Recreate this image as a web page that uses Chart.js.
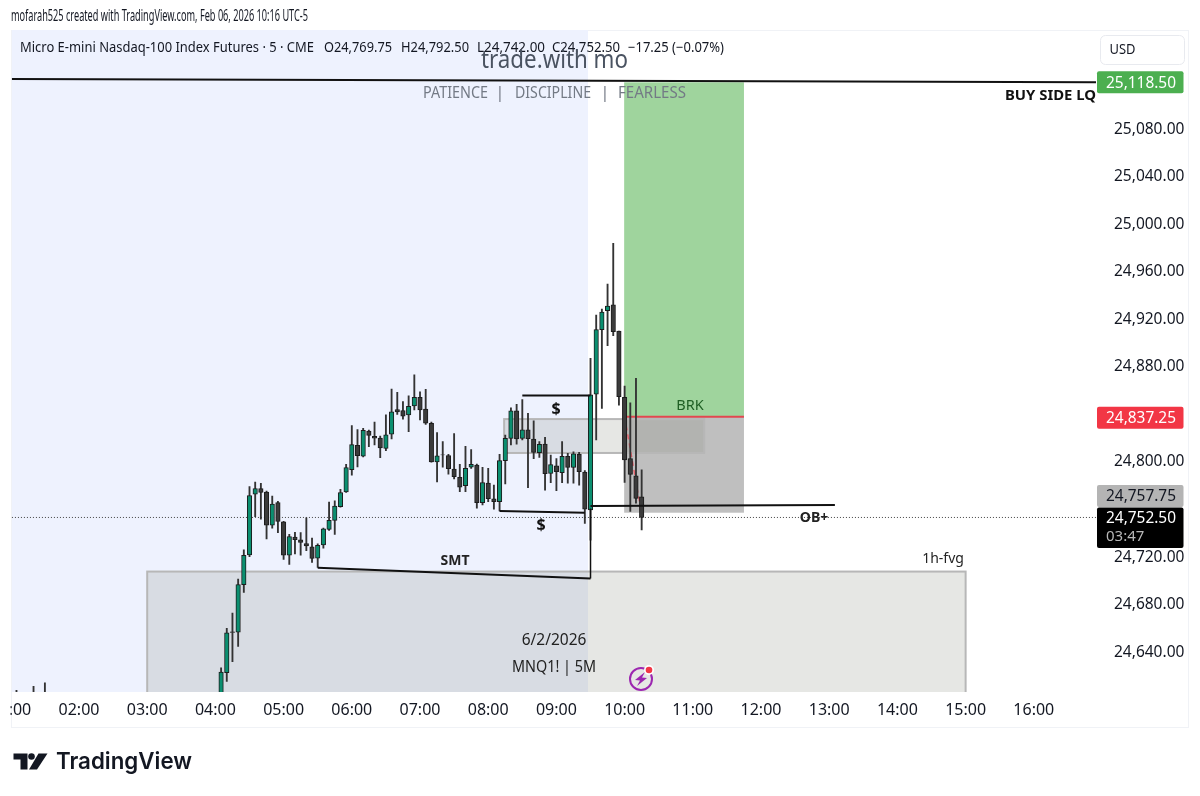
<!DOCTYPE html>
<html><head><meta charset="utf-8">
<style>html,body{margin:0;padding:0;background:#fff}canvas{display:block}</style>
<script src="https://cdn.jsdelivr.net/npm/chart.js@4"></script>
</head><body><canvas id="c" width="1200" height="796"></canvas>
<script>
// bar open times, minutes since midnight
const times=[65,80,90,245,250,255,260,265,270,275,280,285,290,295,300,305,310,315,320,325,330,335,340,345,350,355,360,365,370,375,380,385,390,395,400,405,410,415,420,425,430,435,440,445,450,455,460,465,470,475,480,485,490,495,500,505,510,515,520,525,530,535,540,545,550,555,560,565,570,575,580,585,590,595,600,605,610,615];
const opens=[24600,24600,24602,24601.75,24622,24656.25,24656,24696,24721,24772,24776.75,24773.75,24746,24765,24748.75,24720.75,24736,24733.75,24730.5,24727.75,24718.25,24729.5,24742.5,24750,24761.5,24774,24792.75,24813.25,24804,24825.25,24820.75,24819.25,24810.5,24822.5,24843.25,24842.5,24838.75,24846.25,24853.5,24843.75,24831.75,24799.25,24805.25,24804.5,24793.25,24786.25,24779.25,24794.75,24796.5,24765,24781.5,24768.25,24765.75,24800.25,24819,24842.25,24819,24826.25,24818.5,24807,24814.25,24789.5,24796,24790.25,24804,24794.5,24805.5,24790.75,24758.75,24856.25,24910.5,24926.5,24931.25,24909.25,24853.5,24802,24787.5,24769.75];
const highs=[24607,24610.5,24613.5,24626,24659.25,24672,24700.75,24725.25,24778.5,24782.25,24781.25,24774.75,24770.5,24766,24749.25,24738.25,24740,24739.75,24752.25,24735.25,24730.25,24743.5,24765.5,24766.5,24776.25,24797.25,24829.75,24826.5,24827.5,24826,24832.75,24821,24838.75,24860.5,24857.75,24850,24854.75,24872.5,24858.25,24860.25,24832.75,24824,24816.25,24805.5,24823,24797.25,24812.25,24809.5,24797.5,24794.75,24793.75,24779.75,24805.5,24821.75,24844.75,24847.75,24851.75,24840,24833.75,24816.25,24820,24805,24802,24816.25,24806.5,24807.75,24807.25,24792,24886.25,24922.75,24927.75,24948.75,24983,24909.25,24863,24849,24869.5,24792.5];
const lows=[24590,24590,24592,24599,24614.5,24631.25,24644,24689.5,24719.5,24753.25,24751,24734.5,24743.5,24739.75,24717.25,24713,24721.75,24720.75,24724.5,24714.75,24710.5,24726.75,24741.5,24738.25,24761.25,24773.5,24788,24795,24803.5,24812,24813.5,24802.75,24808.75,24818.5,24839.25,24835.25,24824.75,24843,24834.5,24830.75,24799,24782.5,24794.75,24789,24785,24774.25,24774.25,24793.75,24760.25,24763,24765.75,24759.5,24758,24780.75,24813.5,24814.25,24817.75,24777.5,24802,24803,24775.5,24781.75,24775,24781.75,24781.25,24781.25,24779.75,24747.5,24733.5,24817.75,24844.25,24897,24905.5,24847,24782,24757.5,24764.5,24742];
const closes=[24595,24595,24597,24622.5,24655.5,24655.75,24696,24720.75,24771,24776.75,24773.5,24746,24763.75,24749.25,24720.75,24736.5,24733.75,24731.5,24728.5,24718,24729,24743,24750,24762,24773.5,24794.5,24813.75,24804.5,24825.75,24821.5,24819.25,24811,24822,24841.25,24841.25,24837.75,24846,24853.5,24843,24831.75,24799.25,24804.25,24805,24793.5,24786.75,24778,24793.75,24797.25,24765,24781.75,24768.25,24765.75,24800.25,24819,24842.25,24818.5,24826.25,24818.75,24807.25,24814,24789.25,24797,24791,24804,24794.5,24806,24791,24759.5,24855.75,24910.5,24925.25,24930.25,24908.75,24854,24801,24788.75,24768.5,24752.5];

const priceTicks=[24640,24680,24720,24800,24880,24920,24960,25000,25040,25080];
const hourTicks=[60,120,180,240,300,360,420,480,540,600,660,720,780,840,900,960];
const hourLabels=['01:00','02:00','03:00','04:00','05:00','06:00','07:00','08:00','09:00','10:00','11:00','12:00','13:00','14:00','15:00','16:00'];

const X_MIN=60, X_MAX=1014.7, Y_MIN=24605.7, Y_MAX=25162.5;
const lastPrice=24752.5, targetPrice=25118.5, entryPrice=24837.25, stopPrice=24757.75;
// session shading and boxes: minutes / price
const sessionRange=[61,567.8];
const targetBox=[599.6,705,25118.5,24837.25];
const stopBox=[599.6,705,24837.25,24756.5];
const obBox=[494,670,24835.25,24806.75];
const fvgBox=[180,900,24707,24500];
// drawn lines: [minute, price] pairs
const buySideLine=[[61,25121.3],[1014.7,25118.5]];
const upperSweep=[[510,24855],[570,24855]];
const lowerSweep=[[490,24758],[565,24756.5]];
const smtLine=[[330,24710.25],[570,24701.25]];
const smtDrop=[[570,24760],[570,24701.25]];
const obLine=[[570,24762.2],[785,24763]];
const redLine=[[600,24837.25],[705,24837.25]];
const stopDash=[[600,24837.25],[614.5,24758]];
const lastLine=[[61,lastPrice],[1014.7,lastPrice]];

const GREEN='#0b8f70', DARK='#3b3b3b', EDGE='#1c1c1c';
const up=times.map((t,i)=>closes[i]>=opens[i]);
function lineDs(pts,color,width,order,dash){return {type:'line',data:pts.map(p=>({x:p[0],y:p[1]})),borderColor:color,borderWidth:width,pointRadius:0,fill:false,tension:0,order:order,borderDash:dash||[]};}

function rectOf(ch,b){const x=ch.scales.x,y=ch.scales.y;const l=x.getPixelForValue(b[0]),r=x.getPixelForValue(b[1]),t=y.getPixelForValue(b[2]),bt=y.getPixelForValue(b[3]);return [l,t,r-l,bt-t];}
function T(c,s,x,y,font,color,align,maxW){c.font=font;c.fillStyle=color;c.textAlign=align||'left';c.textBaseline='middle';if(maxW)c.fillText(s,x,y,maxW);else c.fillText(s,x,y);}

const overlay={id:'overlay',
 beforeDraw(ch){const c=ch.ctx;c.save();c.fillStyle='#fff';c.fillRect(0,0,1200,796);
   c.strokeStyle='#f0f2f6';c.lineWidth=1;c.strokeRect(11.5,30.5,1177,697);c.restore();
   // price labels sit one pixel lower than the tick centre
   const ys=ch.scales.y;ys.getLabelItems(ch.chartArea).forEach(it=>{if(!it.options._moved){it.options.translation=[it.options.translation[0],it.options.translation[1]+1];it.options._moved=true;}});},
 beforeDatasetsDraw(ch){const c=ch.ctx,a=ch.chartArea,xs=ch.scales.x;c.save();c.beginPath();c.rect(a.left,a.top,a.right-a.left,a.bottom-a.top);c.clip();
   const s0=xs.getPixelForValue(sessionRange[0]),s1=xs.getPixelForValue(sessionRange[1]);
   c.fillStyle='#eef2fe';c.fillRect(s0,a.top,s1-s0,a.bottom-a.top);
   let r=rectOf(ch,targetBox);c.fillStyle='#9fd49d';c.fillRect(...r);
   r=rectOf(ch,stopBox);c.fillStyle='rgba(120,120,120,0.47)';c.fillRect(...r);
   for(const b of [obBox,fvgBox]){r=rectOf(ch,b);c.fillStyle='rgba(128,134,122,0.2)';c.fillRect(...r);c.strokeStyle='#b7b7b7';c.lineWidth=2;c.strokeRect(...r);}
   c.restore();},
 afterDraw(ch){const c=ch.ctx,ys=ch.scales.y;c.save();
   // mask left overhang of the first time label
   c.fillStyle='#fff';c.fillRect(0,696,10.5,28);
   const sans='"Noto Sans"';
   T(c,'mofarah525 created with TradingView.com, Feb 06, 2026 10:16 UTC-5',11,17,'15.5px '+sans,'#131722','left',297);
   const top='14px '+sans;
   T(c,'Micro E-mini Nasdaq-100 Index Futures · 5 · CME',20,48,top,'#131722','left',294);
   T(c,'O24,769.75',324,48,top,'#131722','left',68);
   T(c,'H24,792.50',401,48,top,'#131722','left',68);
   T(c,'L24,742.00',477,48,top,'#131722','left',68);
   T(c,'C24,752.50',552,48,top,'#131722','left',68);
   T(c,'−17.25 (−0.07%)',628,48,top,'#131722','left',96);
   T(c,'trade.with mo',554.5,61,'26px '+sans,'#4a5361','center',147);
   const sub='16px '+sans,subC='#737a85';
   T(c,'PATIENCE',423,93,sub,subC,'left',65);
   T(c,'|',500,93,sub,subC,'center');
   T(c,'DISCIPLINE',515,93,sub,subC,'left',76);
   T(c,'|',605,93,sub,subC,'center');
   T(c,'FEARLESS',618,93,sub,subC,'left',68);
   T(c,'BUY SIDE LQ',1050.5,96,'bold 15px '+sans,'#111','center',91);
   T(c,'BRK',690,406,'14.5px '+sans,'#1f5f24','center');
   T(c,'$',556,409,'bold 16px '+sans,'#111','center');
   T(c,'$',541,525,'bold 16px '+sans,'#111','center');
   T(c,'SMT',455,561,'bold 14px '+sans,'#222','center',30);
   T(c,'OB+',814,518,'bold 14px '+sans,'#222','center',30);
   T(c,'1h-fvg',943,559,'14px '+sans,'#222','center',44);
   T(c,'6/2/2026',554,641,'15.5px '+sans,'#222','center',67);
   T(c,'MNQ1! | 5M',554,668,'15.5px '+sans,'#222','center',84);
   // currency button
   c.strokeStyle='#e8eaef';c.lineWidth=1;c.beginPath();c.roundRect(1100.5,35.5,84,29,5);c.stroke();
   T(c,'USD',1122.5,50,'14px '+sans,'#131722','center',26);
   // price tags
   const tag=(y,h,col)=>{c.fillStyle=col;c.beginPath();c.roundRect(1097,y,86.5,h,2);c.fill();};
   const lab='15.5px '+sans;
   const ty=ys.getPixelForValue(targetPrice);tag(ty-11,22,'#4caf50');T(c,'25,118.50',1106,ty+1,lab,'#fff','left',70);
   const ey=ys.getPixelForValue(entryPrice)+1;tag(ey-11,22,'#f23645');T(c,'24,837.25',1106,ey+1,lab,'#fff','left',70);
   tag(485,22,'#b4b4b4');T(c,'24,757.75',1106,497,lab,'#131722','left',70);
   tag(507.5,40.5,'#000');T(c,'24,752.50',1106,519,lab,'#fff','left',70);T(c,'03:47',1106,537,'15px '+sans,'#b8b8b8','left');
   // bolt badge
   c.strokeStyle='#9c27b0';c.lineWidth=2;c.beginPath();c.arc(641,679,11,0,Math.PI*2);c.stroke();
   c.fillStyle='#9c27b0';c.beginPath();c.moveTo(645,672);c.lineTo(635,680);c.lineTo(640,680.5);c.lineTo(637,686);c.lineTo(647,678);c.lineTo(642,677.5);c.closePath();c.fill();
   c.fillStyle='#fff';c.beginPath();c.arc(649,670,5,0,Math.PI*2);c.fill();
   c.fillStyle='#f23645';c.beginPath();c.arc(649,670,3.3,0,Math.PI*2);c.fill();
   // wordmark
   c.fillStyle='#131722';c.beginPath();c.moveTo(13.5,753.5);c.lineTo(27.5,753.5);c.lineTo(27.5,769.5);c.lineTo(20.5,769.5);c.lineTo(20.5,759.5);c.lineTo(13.5,759.5);c.closePath();c.fill();
   c.beginPath();c.arc(31.5,756.5,3.3,0,Math.PI*2);c.fill();
   c.beginPath();c.moveTo(38.5,753.5);c.lineTo(47.5,753.5);c.lineTo(37,769.5);c.lineTo(29,769.5);c.closePath();c.fill();
   T(c,'TradingView',56,762,'600 23.5px Inter','#131722','left',136);
   c.restore();}
};

new Chart(document.getElementById('c'),{
 data:{datasets:[
  lineDs(buySideLine,'#111',2,1),
  lineDs(upperSweep,'#111',2,1),
  lineDs(lowerSweep,'#111',2,1),
  lineDs(smtLine,'#111',2,1),
  lineDs(smtDrop,'#111',1.5,1),
  lineDs(obLine,'#111',2,1),
  {type:'bar',grouped:false,order:2,barThickness:4.5,borderWidth:1,borderColor:EDGE,borderSkipped:false,
   backgroundColor:times.map((t,i)=>up[i]?GREEN:DARK),
   data:times.map((t,i)=>({x:t,y:[opens[i],closes[i]]}))},
  {type:'bar',grouped:false,order:3,barThickness:1.2,borderWidth:0,backgroundColor:'#333',
   data:times.map((t,i)=>({x:t,y:[lows[i],highs[i]]}))},
  lineDs(redLine,'#e2474f',2,4),
  lineDs(stopDash,'#e2606a',1.5,4,[5,4]),
  lineDs(lastLine,'#444',1,5,[1,2])
 ]},
 options:{responsive:false,animation:false,events:[],
  layout:{padding:{left:10.8,top:30,right:0,bottom:44}},
  plugins:{legend:{display:false},tooltip:{enabled:false},title:{display:false}},
  scales:{
   x:{type:'linear',min:X_MIN,max:X_MAX,offset:false,grid:{display:false},border:{display:false},
    afterBuildTicks(s){s.ticks=hourTicks.map(v=>({value:v}));},
    afterFit(s){s.height=60;s.paddingLeft=0;s.paddingRight=0;},
    ticks:{autoSkip:false,maxRotation:0,minRotation:0,padding:1,color:'#131722',font:{family:'"Noto Sans"',size:16},
     callback(v){return hourLabels[hourTicks.indexOf(v)];}}},
   y:{type:'linear',position:'right',min:Y_MIN,max:Y_MAX,grid:{display:false},border:{display:false},
    afterBuildTicks(s){s.ticks=priceTicks.map(v=>({value:v}));},
    afterFit(s){s.width=104;s.paddingTop=0;s.paddingBottom=0;},
    ticks:{autoSkip:false,padding:10,color:'#131722',font:{family:'"Noto Sans"',size:15.5},
     callback(v){return v.toLocaleString('en-US',{minimumFractionDigits:2,maximumFractionDigits:2});}}}
  }},
 plugins:[overlay]
});
</script></body></html>
